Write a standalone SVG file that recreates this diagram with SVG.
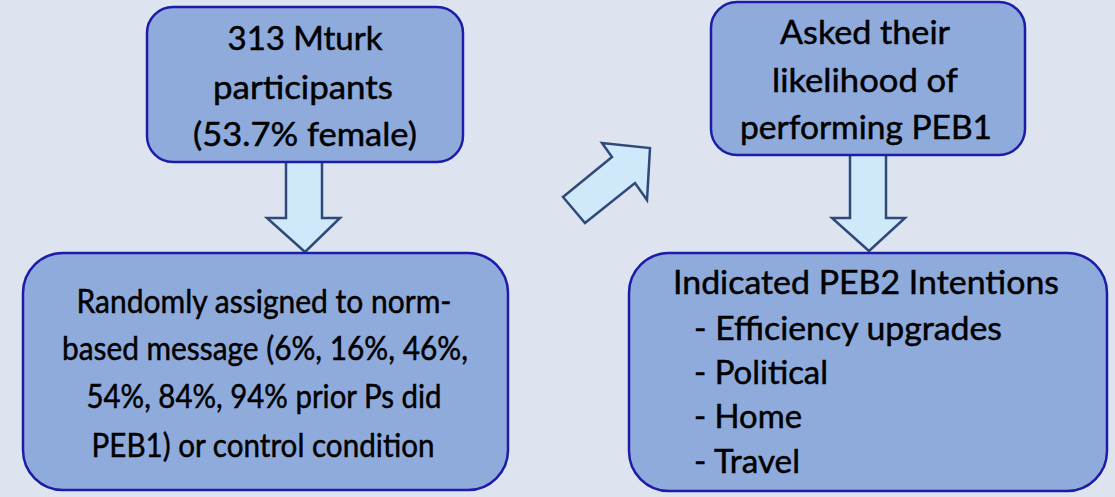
<svg xmlns="http://www.w3.org/2000/svg" width="1115" height="497" viewBox="0 0 1115 497">
<style>
.box{fill:#8fabdc;stroke:#1c1ca8;stroke-width:2.5}
.arr{fill:#cfe9fb;stroke:#2f4a78;stroke-width:2.5;stroke-linejoin:miter}
.t{font-family:Lato,"Open Sans",sans-serif;font-size:33px;fill:#000;stroke:#000;stroke-width:0.5}
.c{text-anchor:middle}
</style>
<rect x="0" y="0" width="1115" height="497" fill="#dde4f0"/>
<g id="connectors">
<polygon class="arr" points="286,160 322,160 322,218 340,218 305,252 267,218 286,218"/>
<polygon class="arr" points="850,154 886,154 886,218 905,218 869,251 832,218 850,218"/>
<polygon class="arr" points="563,197 612,157 602,143 650,148 647,200 635,183 585,223"/>
</g>
<g id="n1">
<rect class="box" x="147" y="7" width="316" height="155" rx="26"/>
<text class="t c" x="305" y="50" textLength="155" lengthAdjust="spacingAndGlyphs">313 Mturk</text>
<text class="t c" x="303" y="99" textLength="180" lengthAdjust="spacingAndGlyphs">participants</text>
<text class="t c" x="305" y="146" textLength="224" lengthAdjust="spacingAndGlyphs">(53.7% female)</text>
</g>
<g id="n2">
<rect class="box" x="23" y="253" width="485" height="237" rx="40"/>
<text class="t c" x="264" y="313" textLength="375" lengthAdjust="spacingAndGlyphs">Randomly assigned to norm-</text>
<text class="t c" x="265" y="360" textLength="406" lengthAdjust="spacingAndGlyphs">based message (6%, 16%, 46%,</text>
<text class="t c" x="264" y="408" textLength="355" lengthAdjust="spacingAndGlyphs">54%, 84%, 94% prior Ps did</text>
<text class="t c" x="263" y="457" textLength="343" lengthAdjust="spacingAndGlyphs">PEB1) or control condition</text>
</g>
<g id="n3">
<rect class="box" x="711" y="2" width="314" height="153" rx="26"/>
<text class="t c" x="865" y="44" textLength="170" lengthAdjust="spacingAndGlyphs">Asked their</text>
<text class="t c" x="865" y="92" textLength="186" lengthAdjust="spacingAndGlyphs">likelihood of</text>
<text class="t c" x="866" y="139" textLength="252" lengthAdjust="spacingAndGlyphs">performing PEB1</text>
</g>
<g id="n4">
<rect class="box" x="629" y="253" width="478" height="238" rx="40"/>
<text class="t" x="673" y="294" textLength="386" lengthAdjust="spacingAndGlyphs">Indicated PEB2 Intentions</text>
<text class="t" x="694" y="340" textLength="308" lengthAdjust="spacingAndGlyphs">- Efficiency upgrades</text>
<text class="t" x="694" y="384" textLength="134" lengthAdjust="spacingAndGlyphs">- Political</text>
<text class="t" x="694" y="428" textLength="108" lengthAdjust="spacingAndGlyphs">- Home</text>
<text class="t" x="694" y="473" textLength="106" lengthAdjust="spacingAndGlyphs">- Travel</text>
</g>
</svg>
